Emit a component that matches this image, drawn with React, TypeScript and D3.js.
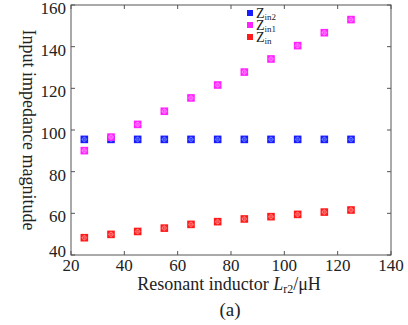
import React from "react";
import * as d3 from "d3";

const xValues = [25, 35, 45, 55, 65, 75, 85, 95, 105, 115, 125];
const zin2 = [95.5, 95.5, 95.5, 95.5, 95.5, 95.5, 95.5, 95.5, 95.5, 95.5, 95.5];
const zin1 = [90.1, 96.6, 102.7, 109, 115.4, 121.6, 127.8, 134.1, 140.5, 146.7, 153];
const zin = [48.3, 49.9, 51.3, 52.9, 54.7, 56, 57.3, 58.4, 59.5, 60.6, 61.6];
const xTicks = [20, 40, 60, 80, 100, 120, 140];
const yTicks = [40, 60, 80, 100, 120, 140, 160];

const series = [
  { name: "in2", values: zin2, color: "#1a1aff", inner: "#6f8cff" },
  { name: "in1", values: zin1, color: "#ff22ff", inner: "#ff8cff" },
  { name: "in", values: zin, color: "#ff1a1a", inner: "#ff8c8c" },
];

const W = 408, H = 325;
const left = 71, right = 391, top = 5, bottom = 255;
const font = "'Liberation Serif', 'Times New Roman', serif";

function Marker({ cx, cy, color, inner }: { cx: number; cy: number; color: string; inner: string }) {
  const s = 3.8;
  return (
    <g>
      <rect x={cx - s} y={cy - s} width={2 * s} height={2 * s} fill={color} />
      <circle cx={cx} cy={cy} r={2} fill="none" stroke={inner} strokeWidth={0.8} />
      <line x1={cx - 3} y1={cy} x2={cx + 3} y2={cy} stroke={inner} strokeWidth={0.5} />
      <line x1={cx} y1={cy - 3} x2={cx} y2={cy + 3} stroke={inner} strokeWidth={0.5} />
    </g>
  );
}

export default function App() {
  const x = d3.scaleLinear().domain([20, 140]).range([left, right]);
  const y = d3.scaleLinear().domain([40, 160]).range([bottom, top]);
  const axisColor = "#555";
  const tl = 4;
  return (
    <svg width={W} height={H} style={{ position: "absolute", left: 0, top: 0, background: "#fff" }}>
      <rect x={left} y={top} width={right - left} height={bottom - top} fill="none" stroke={axisColor} strokeWidth={1} />
      {xTicks.map((t) => (
        <g key={"x" + t}>
          <line x1={x(t)} x2={x(t)} y1={bottom} y2={bottom - tl} stroke={axisColor} />
          <line x1={x(t)} x2={x(t)} y1={top} y2={top + tl} stroke={axisColor} />
          <text x={x(t)} y={bottom + 16} textAnchor="middle" fontFamily={font} fontSize={17} fill="#222">{t}</text>
        </g>
      ))}
      {yTicks.map((t) => (
        <g key={"y" + t}>
          <line x1={left} x2={left + tl} y1={y(t)} y2={y(t)} stroke={axisColor} />
          <line x1={right} x2={right - tl} y1={y(t)} y2={y(t)} stroke={axisColor} />
          <text x={left - 5} y={Math.min(y(t) + 9, bottom + 2)} textAnchor="end" fontFamily={font} fontSize={17} fill="#222">{t}</text>
        </g>
      ))}
      {series.map((s) =>
        s.values.map((v, i) => (
          <Marker key={s.name + i} cx={x(xValues[i])} cy={y(v)} color={s.color} inner={s.inner} />
        ))
      )}
      {series.map((s, i) => (
        <g key={"leg" + s.name}>
          <rect x={247} y={10 + i * 12} width={6} height={6} fill={s.color} />
          <text x={256} y={18 + i * 12} fontFamily={font} fontSize={14} fill="#222">
            Z<tspan fontSize={9} dy={1.5}>{s.name}</tspan>
          </text>
        </g>
      ))}
      <text transform={`translate(23,${(top + bottom) / 2}) rotate(90)`} textAnchor="middle" fontFamily={font} fontSize={18} fill="#222">
        Input impedance magnitude
      </text>
      <text x={229} y={290} textAnchor="middle" fontFamily={font} fontSize={18} fill="#222">
        Resonant inductor <tspan fontStyle="italic">L</tspan>
        <tspan fontSize={12} dy={3}>r2</tspan>
        <tspan dy={-3}>/μH</tspan>
      </text>
      <text x={230} y={316} textAnchor="middle" fontFamily={font} fontSize={19} fill="#222">(a)</text>
    </svg>
  );
}
